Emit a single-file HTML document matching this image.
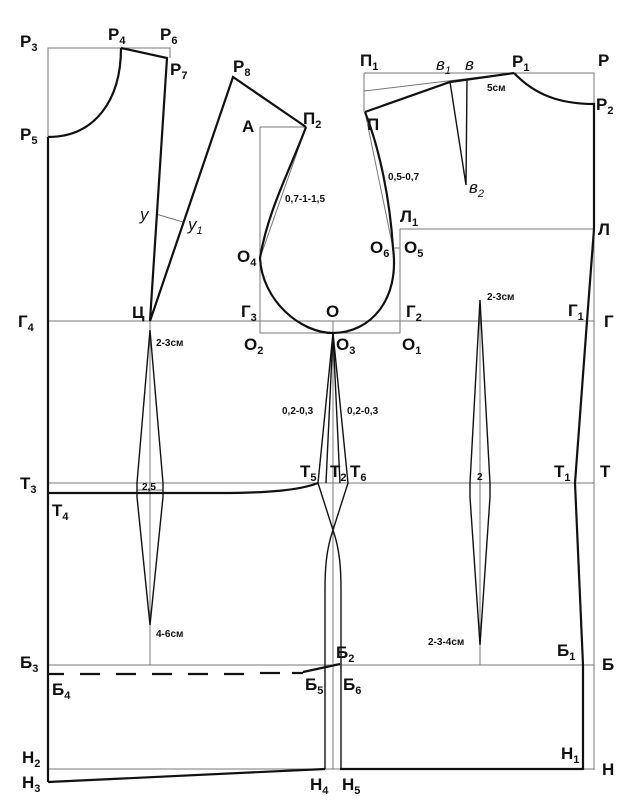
<!DOCTYPE html>
<html><head><meta charset="utf-8"><style>
html,body{margin:0;padding:0;background:#fff;}
svg{display:block}
text{font-family:"Liberation Sans",sans-serif;font-weight:bold;fill:#111;}
.l{font-size:17px}
.s{font-size:11px}
.n{font-size:10px}
</style></head><body>
<svg width="644" height="810" viewBox="0 0 644 810" xmlns="http://www.w3.org/2000/svg">
<g stroke="#777" stroke-width="1" fill="none">
<path d="M48,137 V48 H170 V58"/>
<path d="M364,73 H594 V770"/>
<path d="M364,73 V112"/>
<path d="M48,321 H594"/>
<path d="M48,483 H594"/>
<path d="M48,665 H594"/>
<path d="M48,769 H594"/>
<path d="M260,127 H306 M260,127 V333 H400 V229 H594"/>
<path d="M393,248 H400"/>
<path d="M364,91 L514,73"/>
<path d="M306,127 L260,258"/>
<path d="M365,112 L393,248"/>
<path d="M156,214 L183,222"/>
<path d="M150,321 V665"/>
<path d="M480,300 V665"/>
<path d="M333,321 V769"/>
<path d="M137,490 H163 M470,483 H490"/>
</g>
<g stroke="#111" stroke-width="2.2" fill="none">
<path d="M48,137 V782"/>
<path d="M48,137 C95,137 121,100 121,48"/>
<path d="M121,48 L167,58 L150,321 L233,77 L306,127"/>
<path d="M306,127 C290,170 268,210 260,258 C262,300 300,333 333,333 C370,333 400,300 393,248 C390,200 380,150 365,112"/>
<path d="M365,112 L450,82 L514,73"/>
<path d="M514,73 C535,95 560,104 594,104 V229"/>
<path d="M594,229 L587,321 L575,483 L583,665 V770"/>
<path d="M48,493 H220 C270,493 300,490 318,483"/>
<path d="M48,782 C150,778 250,772 325,769"/>
<path d="M340,769 H583"/>
<path d="M303,672 L340,664"/>
</g>
<g stroke="#111" stroke-width="1.4" fill="none">
<path d="M450,82 L466,185 L467,79"/>
<path d="M150,330 L137,483 L137,497 L150,625 L163,497 L163,483 Z"/>
<path d="M480,300 L470,483 L470,497 L480,645 L490,497 L490,483 Z"/>
<path d="M333,333 L318,483 L333,530 C326,550 325,570 325,590 V769"/>
<path d="M333,333 L348,483 L333,530 C340,550 341,570 341,590 V769"/>
<path d="M333,333 L326,483 M333,333 L340,483"/>
</g>
<path d="M48,674 H64 M80,674 H100 M116,674 H136 M152,674 H172 M188,674 H208 M224,674 H244 M260,673 H280 M292,673 H303" stroke="#111" stroke-width="2.2" fill="none"/>
<g class="l">
<text x="20" y="47">Р<tspan class="s" dy="4">3</tspan></text>
<text x="108" y="40">Р<tspan class="s" dy="4">4</tspan></text>
<text x="160" y="40">Р<tspan class="s" dy="4">6</tspan></text>
<text x="170" y="75">Р<tspan class="s" dy="4">7</tspan></text>
<text x="20" y="140">Р<tspan class="s" dy="4">5</tspan></text>
<text x="233" y="72">Р<tspan class="s" dy="4">8</tspan></text>
<text x="303" y="124">П<tspan class="s" dy="4">2</tspan></text>
<text x="242" y="132">А</text>
<text x="237" y="262">О<tspan class="s" dy="4">4</tspan></text>
<text x="132" y="318">Ц</text>
<text x="18" y="327">Г<tspan class="s" dy="4">4</tspan></text>
<text x="241" y="317">Г<tspan class="s" dy="4">3</tspan></text>
<text x="326" y="317">О</text>
<text x="406" y="317">Г<tspan class="s" dy="4">2</tspan></text>
<text x="244" y="350">О<tspan class="s" dy="4">2</tspan></text>
<text x="336" y="350">О<tspan class="s" dy="4">3</tspan></text>
<text x="402" y="350">О<tspan class="s" dy="4">1</tspan></text>
<text x="360" y="66">П<tspan class="s" dy="4">1</tspan></text>
<text x="367" y="130">П</text>
<text x="512" y="67">Р<tspan class="s" dy="4">1</tspan></text>
<text x="598" y="66">Р</text>
<text x="596" y="110">Р<tspan class="s" dy="4">2</tspan></text>
<text x="400" y="222">Л<tspan class="s" dy="4">1</tspan></text>
<text x="598" y="235">Л</text>
<text x="370" y="253">О<tspan class="s" dy="4">6</tspan></text>
<text x="404" y="253">О<tspan class="s" dy="4">5</tspan></text>
<text x="568" y="316">Г<tspan class="s" dy="4">1</tspan></text>
<text x="604" y="327">Г</text>
<text x="20" y="489">Т<tspan class="s" dy="4">3</tspan></text>
<text x="52" y="516">Т<tspan class="s" dy="4">4</tspan></text>
<text x="300" y="477">Т<tspan class="s" dy="4">5</tspan></text>
<text x="330" y="477">Т<tspan class="s" dy="4">2</tspan></text>
<text x="350" y="477">Т<tspan class="s" dy="4">6</tspan></text>
<text x="554" y="477">Т<tspan class="s" dy="4">1</tspan></text>
<text x="600" y="477">Т</text>
<text x="20" y="668">Б<tspan class="s" dy="4">3</tspan></text>
<text x="52" y="695">Б<tspan class="s" dy="4">4</tspan></text>
<text x="336" y="658">Б<tspan class="s" dy="4">2</tspan></text>
<text x="305" y="690">Б<tspan class="s" dy="4">5</tspan></text>
<text x="343" y="690">Б<tspan class="s" dy="4">6</tspan></text>
<text x="557" y="656">Б<tspan class="s" dy="4">1</tspan></text>
<text x="602" y="670">Б</text>
<text x="22" y="763">Н<tspan class="s" dy="4">2</tspan></text>
<text x="22" y="788">Н<tspan class="s" dy="4">3</tspan></text>
<text x="310" y="790">Н<tspan class="s" dy="4">4</tspan></text>
<text x="342" y="790">Н<tspan class="s" dy="4">5</tspan></text>
<text x="561" y="759">Н<tspan class="s" dy="4">1</tspan></text>
<text x="602" y="775">Н</text>
</g>
<g style="font-style:italic" font-size="17">
<text x="140" y="220" style="font-weight:normal">у</text>
<text x="188" y="230" style="font-weight:normal">у<tspan font-size="11" dy="4">1</tspan></text>
<text x="436" y="70" style="font-weight:normal">в<tspan font-size="11" dy="4">1</tspan></text>
<text x="465" y="70" style="font-weight:normal">в</text>
<text x="469" y="193" style="font-weight:normal">в<tspan font-size="11" dy="4">2</tspan></text>
</g>
<g class="n">
<text x="285" y="202">0,7-1-1,5</text>
<text x="388" y="180">0,5-0,7</text>
<text x="487" y="91">5см</text>
<text x="156" y="346">2-3см</text>
<text x="487" y="300">2-3см</text>
<text x="142" y="490">2,5</text>
<text x="477" y="480">2</text>
<text x="282" y="414">0,2-0,3</text>
<text x="347" y="414">0,2-0,3</text>
<text x="156" y="637">4-6см</text>
<text x="428" y="645">2-3-4см</text>
</g>
</svg>
</body></html>
